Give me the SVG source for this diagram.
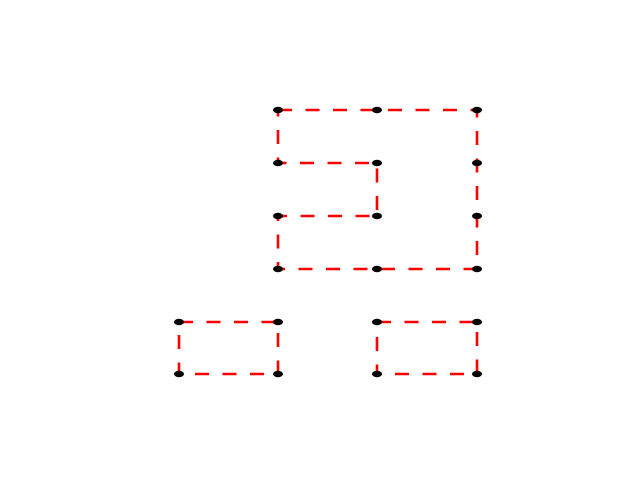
<svg xmlns="http://www.w3.org/2000/svg" width="640" height="480" viewBox="0 0 640 480">
<style>
.ln{fill:none;stroke:#ff0000;stroke-width:2.6;stroke-dasharray:14 13.5}
.pt{fill:#000000}
</style>
<rect width="640" height="480" fill="#ffffff"/>
<g id="connectors">
<path class="ln" d="M278,110 L377,110 L477,110 L477,163 L477,216 L477,269 L377,269 L278,269 L278,216 L377,216 L377,163 L278,163 Z"/>
<path class="ln" d="M179,322 L278,322 L278,374 L179,374 Z"/>
<path class="ln" d="M377,322 L477,322 L477,374 L377,374 Z"/>
</g>
<g id="n1"><ellipse class="pt" cx="278" cy="110" rx="5" ry="3.3"/></g>
<g id="n2"><ellipse class="pt" cx="377" cy="110" rx="5" ry="3.3"/></g>
<g id="n3"><ellipse class="pt" cx="477" cy="110" rx="5" ry="3.3"/></g>
<g id="n4"><ellipse class="pt" cx="278" cy="163" rx="5" ry="3.3"/></g>
<g id="n5"><ellipse class="pt" cx="377" cy="163" rx="5" ry="3.3"/></g>
<g id="n6"><ellipse class="pt" cx="477" cy="163" rx="5" ry="3.3"/></g>
<g id="n7"><ellipse class="pt" cx="278" cy="216" rx="5" ry="3.3"/></g>
<g id="n8"><ellipse class="pt" cx="377" cy="216" rx="5" ry="3.3"/></g>
<g id="n9"><ellipse class="pt" cx="477" cy="216" rx="5" ry="3.3"/></g>
<g id="n10"><ellipse class="pt" cx="278" cy="269" rx="5" ry="3.3"/></g>
<g id="n11"><ellipse class="pt" cx="377" cy="269" rx="5" ry="3.3"/></g>
<g id="n12"><ellipse class="pt" cx="477" cy="269" rx="5" ry="3.3"/></g>
<g id="n13"><ellipse class="pt" cx="179" cy="322" rx="5" ry="3.3"/></g>
<g id="n14"><ellipse class="pt" cx="278" cy="322" rx="5" ry="3.3"/></g>
<g id="n15"><ellipse class="pt" cx="179" cy="374" rx="5" ry="3.3"/></g>
<g id="n16"><ellipse class="pt" cx="278" cy="374" rx="5" ry="3.3"/></g>
<g id="n17"><ellipse class="pt" cx="377" cy="322" rx="5" ry="3.3"/></g>
<g id="n18"><ellipse class="pt" cx="477" cy="322" rx="5" ry="3.3"/></g>
<g id="n19"><ellipse class="pt" cx="377" cy="374" rx="5" ry="3.3"/></g>
<g id="n20"><ellipse class="pt" cx="477" cy="374" rx="5" ry="3.3"/></g>
</svg>
